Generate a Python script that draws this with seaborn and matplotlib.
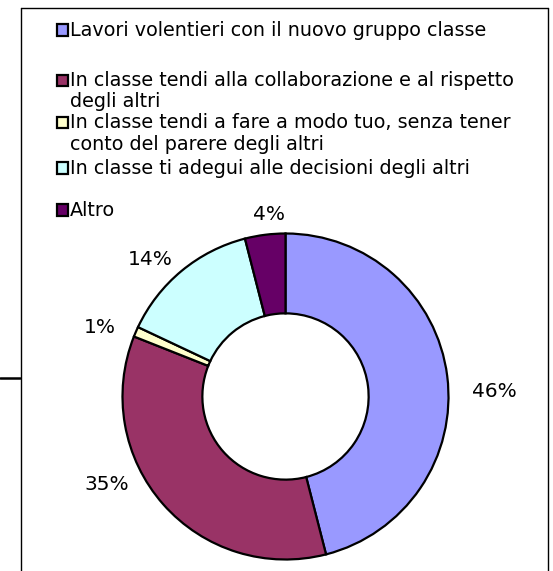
import matplotlib
matplotlib.use("Agg")
import matplotlib.pyplot as plt
from matplotlib.patches import Rectangle
from matplotlib.lines import Line2D
import seaborn as sns

categories = [
    "Lavori volentieri con il nuovo gruppo classe",
    "In classe tendi alla collaborazione e al rispetto\ndegli altri",
    "In classe tendi a fare a modo tuo, senza tener\nconto del parere degli altri",
    "In classe ti adegui alle decisioni degli altri",
    "Altro",
]
values = [46, 35, 1, 14, 4]
colors = ["#9999FF", "#993366", "#FFFFCC", "#CCFFFF", "#660066"]

# label placement (in pie radius units), as Excel laid them out
label_xy = [(1.282, 0.031), (-1.098, -0.540), (-1.138, 0.423),
            (-0.831, 0.840), (-0.101, 1.117)]

sns.set_theme(style="white")
plt.rcParams["font.family"] = ["DejaVu Sans"]

W, H = 553, 571
fig = plt.figure(figsize=(W / 100, H / 100), dpi=100)
fig.patch.set_facecolor("white")

def fx(x):
    return x / W

def fy(y):
    return 1 - y / H

# outer frame (extends past bottom)
fig.add_artist(Line2D([fx(20.5), fx(20.5)], [fy(7.5), fy(575)], color="black", lw=1.0))
fig.add_artist(Line2D([fx(20.5), fx(547.5)], [fy(7.5), fy(7.5)], color="black", lw=1.0))
fig.add_artist(Line2D([fx(547.5), fx(547.5)], [fy(7.5), fy(575)], color="black", lw=1.0))
# stray mark at left edge
fig.add_artist(Line2D([fx(0), fx(20)], [fy(378), fy(378)], color="black", lw=1.8))

# pie
cx, cy, r = 285.5, 396.5, 163
ax = fig.add_axes([fx(cx - r), fy(cy + r), 2 * r / W, 2 * r / H])
wedges, texts, autotexts = ax.pie(
    values,
    colors=colors,
    startangle=90,
    counterclock=False,
    autopct="%1.0f%%",
    pctdistance=1.24,
    wedgeprops=dict(width=0.49, edgecolor="black", linewidth=1.6),
    textprops=dict(fontsize=14.5, color="black"),
)
for t, (lx, ly) in zip(autotexts, label_xy):
    t.set_position((lx, ly))
    t.set_ha("center")
    t.set_va("center")
ax.set_xlim(-1, 1)
ax.set_ylim(-1, 1)
ax.set_aspect("equal")
ax.axis("off")

# legend
baselines = [[35.8], [86.3, 106.5], [128.4, 150.2], [173.8], [215.8]]
for lab, col, bl in zip(categories, colors, baselines):
    yc = bl[0] - 5.8
    fig.add_artist(Rectangle((fx(57), fy(yc + 5.8)), 11 / W, 11.5 / H,
                             facecolor=col, edgecolor="black", lw=1.6))
    for line, yb in zip(lab.split("\n"), bl):
        fig.text(fx(69.5), fy(yb), line, fontsize=13.8,
                 va="baseline", ha="left", color="black")

fig.savefig("out.png", dpi=100)
